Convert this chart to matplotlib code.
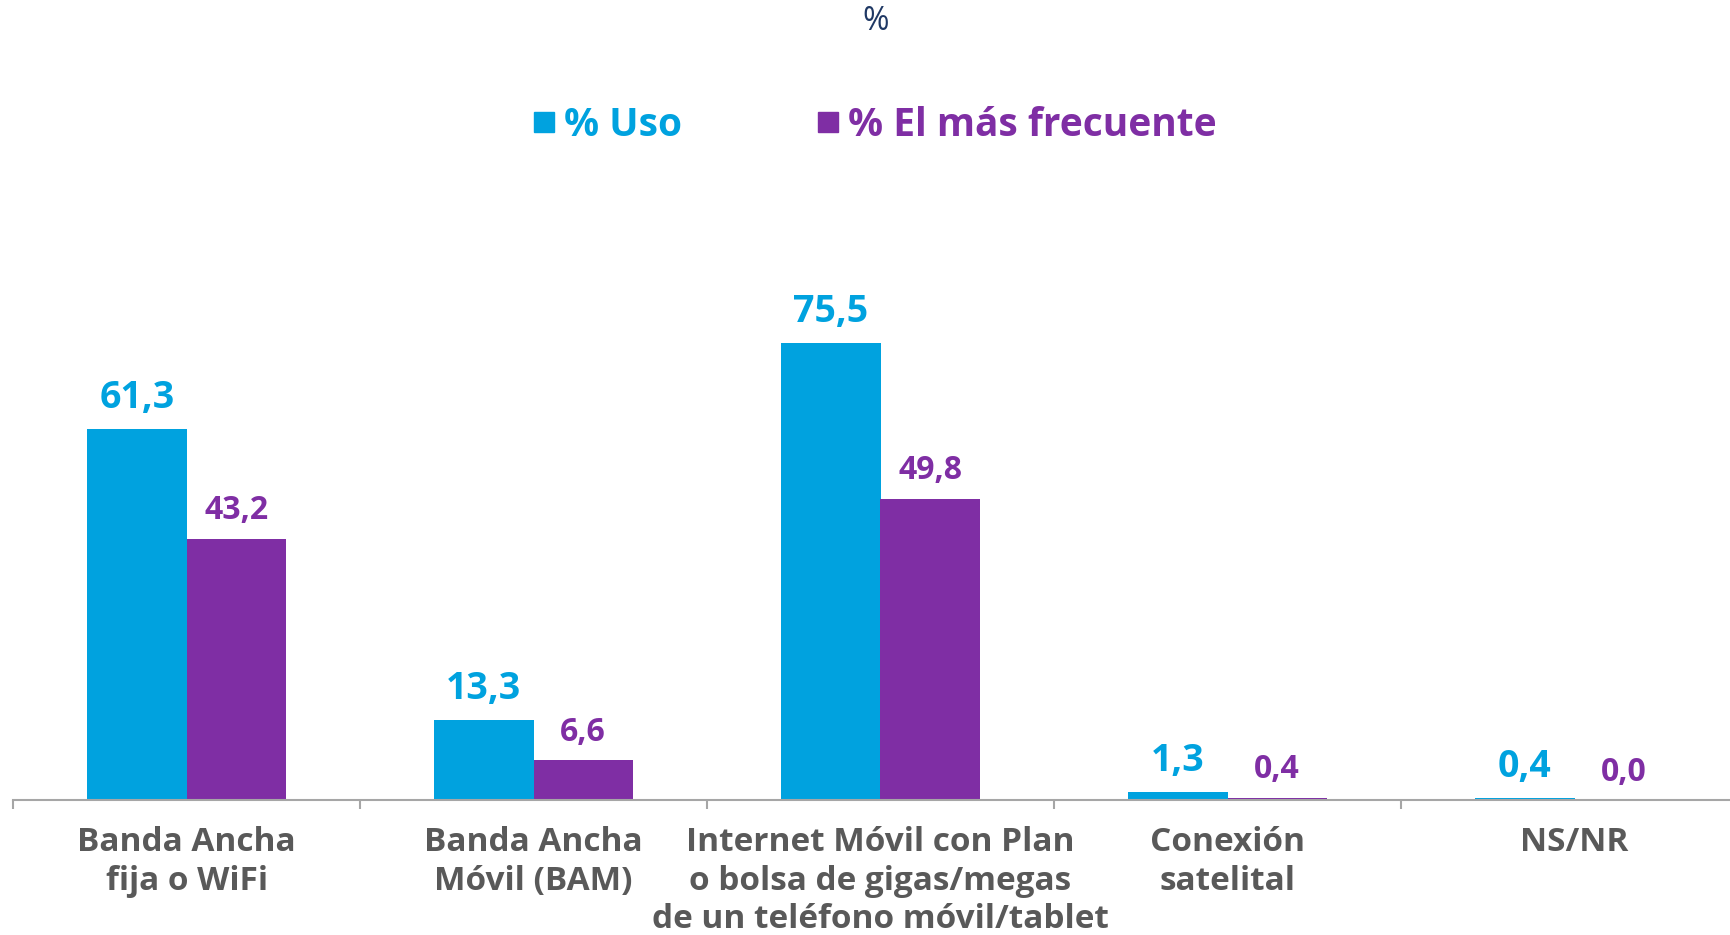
import matplotlib
matplotlib.use('Agg')
import matplotlib.pyplot as plt
from matplotlib.lines import Line2D
import numpy as np

categories = ["Banda Ancha\nfija o WiFi", "Banda Ancha\nMóvil (BAM)",
              "Internet Móvil con Plan\no bolsa de gigas/megas\nde un teléfono móvil/tablet",
              "Conexión\nsatelital", "NS/NR"]
uso = [61.3, 13.3, 75.5, 1.3, 0.4]
frecuente = [43.2, 6.6, 49.8, 0.4, 0.0]
series_names = ["% Uso", "% El más frecuente"]
title = "%"

BLUE = "#00A2DF"
PURPLE = "#7F2EA4"
GRAY_TXT = "#595959"
AXIS = "#A6A6A6"
FONT = "Open Sans"

plt.rcParams['font.family'] = [FONT, 'DejaVu Sans']

fig = plt.figure(figsize=(17.3, 9.35), dpi=100)
left = 13 / 1730
width = 5 * 347 / 1730
bottom = 1 - 800 / 935
height = 605 / 935
ax = fig.add_axes([left, bottom, width, height])

x = np.arange(len(categories))
w = 0.286
ax.bar(x - w / 2, uso, w, color=BLUE)
ax.bar(x + w / 2, frecuente, w, color=PURPLE)
ax.set_xlim(-0.5, 4.5)
ax.set_ylim(0, 100)


def fmt(v):
    return f"{v:.1f}".replace('.', ',')


for xi, v in zip(x, uso):
    ax.annotate(fmt(v), xy=(xi - w / 2, v), xytext=(0, 15), textcoords='offset points',
                ha='center', va='baseline', fontsize=27, fontweight='bold', color=BLUE)
for xi, v in zip(x, frecuente):
    ax.annotate(fmt(v), xy=(xi + w / 2, v), xytext=(0, 14), textcoords='offset points',
                ha='center', va='baseline', fontsize=23, fontweight='bold', color=PURPLE)

for s in ['top', 'left', 'right']:
    ax.spines[s].set_visible(False)
ax.spines['bottom'].set_color(AXIS)
ax.spines['bottom'].set_linewidth(1.5)
ax.set_yticks([])
ax.set_xticks(x)
ax.set_xticklabels(categories, fontsize=24, fontweight='bold', color=GRAY_TXT, linespacing=1.22)
ax.tick_params(axis='x', which='major', length=0, pad=19)
ax.set_xticks(np.arange(-0.5, 5, 1), minor=True)
ax.tick_params(axis='x', which='minor', length=6.5, width=1.5, color=AXIS)

fig.text(794 / 1568, 1 - 22 / 935, title, fontsize=23, color="#1F3864",
         ha='center', va='center')

handles = [Line2D([], [], marker='s', color=BLUE, ls='none', markersize=14),
           Line2D([], [], marker='s', color=PURPLE, ls='none', markersize=14)]
fig.legend(handles, series_names, loc='center', bbox_to_anchor=(0.506, 1 - 125 / 935),
           ncol=2, frameon=False, labelcolor=[BLUE, PURPLE],
           prop={'family': FONT, 'weight': 'bold', 'size': 28},
           columnspacing=3.5, handletextpad=0.27, handlelength=0.5)

fig.savefig('out.png', dpi=100)
